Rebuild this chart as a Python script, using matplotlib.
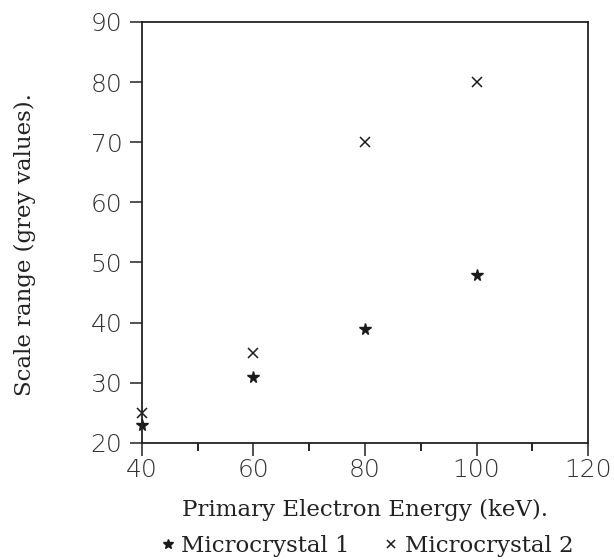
import matplotlib
matplotlib.use("Agg")
import matplotlib.pyplot as plt
from matplotlib.ticker import MultipleLocator

energy = [40, 60, 80, 100]
crystal1 = [23, 31, 39, 48]
crystal2 = [25, 35, 70, 80]

fig = plt.figure(figsize=(6.14, 5.6), dpi=100)
ax = fig.add_axes([0.231, 0.209, 0.727, 0.752])

ax.plot(energy, crystal1, '*', color='#1a1a1a', markersize=8.5, label='Microcrystal 1', clip_on=False)
ax.plot(energy, crystal2, 'x', color='#1a1a1a', markersize=7, markeredgewidth=1.1, label='Microcrystal 2', clip_on=False)

ax.set_xlim(40, 120)
ax.set_ylim(20, 90)
ax.xaxis.set_major_locator(MultipleLocator(20))
ax.xaxis.set_minor_locator(MultipleLocator(10))
ax.yaxis.set_major_locator(MultipleLocator(10))
ax.tick_params(axis='both', which='major', direction='out', length=9, width=1.2,
               labelsize=18, colors='#333333')
ax.tick_params(axis='y', which='major', pad=5)
ax.tick_params(axis='x', which='major', pad=2)
ax.tick_params(axis='x', which='minor', direction='out', length=6, width=1.2)
for lab in ax.get_xticklabels() + ax.get_yticklabels():
    lab.set_fontfamily('DejaVu Sans')
    lab.set_fontweight('light')
for s in ax.spines.values():
    s.set_linewidth(1.3)
    s.set_color('#222222')

ax.set_xlabel('Primary Electron Energy (keV).', family='DejaVu Serif', fontsize=16.5,
              color='#222222', labelpad=12)
ax.set_ylabel('Scale range (grey values).', family='DejaVu Serif', fontsize=16.5,
              color='#222222')
ax.yaxis.set_label_coords(-0.238, 0.47)

leg = fig.legend(loc='center', bbox_to_anchor=(0.598, 0.025), ncol=2, frameon=False,
                 prop={'family': 'DejaVu Serif', 'size': 16.5}, handletextpad=0.3,
                 handlelength=0.6, columnspacing=1.5, markerscale=0.85, borderpad=0,
                 labelcolor='#222222')

fig.savefig('out.png', dpi=100)
